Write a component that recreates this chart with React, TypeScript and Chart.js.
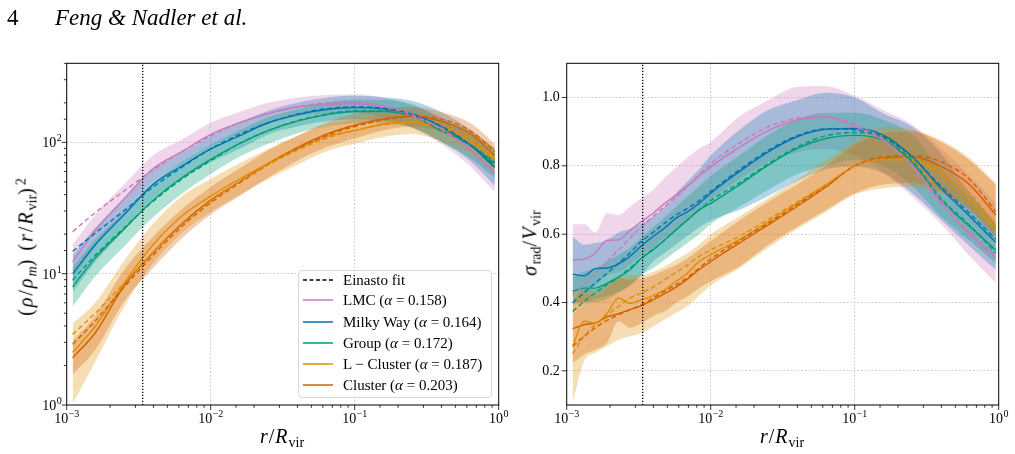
import { useEffect, useRef } from 'react';
import { Chart, registerables } from 'chart.js';

Chart.register(...registerables);

const SERIF = '"Liberation Serif", "Times New Roman", serif';

// Halo classes and their colours
const COLOR_LMC = '#cc78bc';
const COLOR_MW = '#0173b2';
const COLOR_GROUP = '#029e73';
const COLOR_LCL = '#de8f05';
const COLOR_CL = '#d55e00';

const CLASS_NAMES = ['LMC', 'Milky Way', 'Group', 'L \u2212 Cluster', 'Cluster'];
const EINASTO_ALPHA = ['0.158', '0.164', '0.172', '0.187', '0.203'];

// Convergence radius marked in both panels
const R_CONV = 0.00337;

// ---- Left panel: (rho/rho_m)(r/R_vir)^2 ----
const R_DENS = [0.0011, 0.00158, 0.00251, 0.00398, 0.00631, 0.01, 0.0158, 0.0251, 0.0398, 0.0631, 0.1, 0.158, 0.251, 0.398, 0.631, 0.94];

const DENS_LMC = [12.3, 21.4, 37.2, 63.1, 85.1, 115, 141, 166, 186, 195, 197, 186, 158, 126, 89.1, 57.5];
const DENS_LMC_FIT = [20.9, 29.2, 42.7, 61.7, 85.1, 112, 141, 166, 186, 200, 202, 191, 162, 126, 87.1, 58.9];
const DENS_LMC_LO = [9.12, 16.2, 28.8, 50.1, 69.2, 93.3, 117, 138, 158, 166, 168, 155, 129, 97.7, 66.1, 41.7];
const DENS_LMC_HI = [16.6, 28.2, 47.9, 79.4, 105, 141, 170, 200, 219, 229, 232, 219, 191, 155, 112, 74.1];

const DENS_MW = [10.0, 16.6, 28.2, 47.9, 66.1, 89.1, 112, 141, 162, 178, 184, 180, 164, 132, 95.5, 64.6];
const DENS_MW_FIT = [14.8, 20.4, 30.2, 45.7, 64.6, 89.1, 115, 141, 164, 180, 186, 182, 164, 133, 96.6, 66.1];
const DENS_MW_LO = [7.24, 12.3, 21.4, 37.2, 52.5, 70.8, 89.1, 115, 132, 145, 150, 146, 130, 102, 72.4, 46.8];
const DENS_MW_HI = [13.8, 22.4, 37.2, 61.7, 83.2, 112, 141, 174, 200, 219, 226, 221, 207, 170, 126, 89.1];

const DENS_GROUP = [7.94, 13.2, 21.9, 36.3, 53.7, 74.1, 97.7, 123, 145, 162, 172, 172, 158, 123, 95.5, 69.2];
const DENS_GROUP_FIT = [8.91, 13.8, 22.4, 35.5, 52.5, 72.4, 97.7, 123, 146, 164, 174, 174, 160, 124, 96.6, 70.8];
const DENS_GROUP_LO = [5.62, 9.55, 16.2, 26.9, 40.7, 57.5, 77.6, 97.7, 117, 132, 140, 140, 129, 100, 75.9, 53.7];
const DENS_GROUP_HI = [11.2, 18.2, 29.5, 49.0, 70.8, 95.5, 123, 155, 178, 200, 211, 211, 195, 151, 120, 89.1];

const DENS_LCL = [2.51, 3.98, 8.51, 16.6, 27.5, 38.9, 52.5, 69.2, 89.1, 110, 123, 138, 143, 126, 102, 74.1];
const DENS_LCL_FIT = [3.45, 5.01, 8.51, 14.5, 23.4, 35.5, 50.1, 67.6, 87.1, 107, 123, 136, 141, 129, 105, 75.9];
const DENS_LCL_LO = [1.02, 2.14, 5.62, 12.0, 20.4, 29.5, 39.8, 52.5, 67.6, 85.1, 97.7, 110, 116, 102, 81.3, 58.9];
const DENS_LCL_HI = [4.17, 6.03, 12.6, 24.0, 38.9, 52.5, 69.2, 89.1, 112, 135, 148, 162, 164, 148, 123, 91.2];

const DENS_CL = [2.29, 3.55, 8.13, 14.5, 24.0, 36.3, 50.1, 69.2, 91.2, 115, 135, 151, 158, 145, 117, 79.4];
const DENS_CL_FIT = [2.9, 4.37, 7.94, 13.8, 22.9, 34.7, 49.0, 67.6, 89.1, 112, 132, 148, 158, 151, 123, 85.1];
const DENS_CL_LO = [1.7, 2.63, 6.17, 11.0, 18.6, 28.2, 38.9, 53.7, 72.4, 91.2, 107, 123, 132, 120, 95.5, 63.1];
const DENS_CL_HI = [3.09, 4.79, 10.7, 19.1, 30.9, 45.7, 63.1, 87.1, 112, 141, 166, 182, 186, 170, 141, 97.7];

// ---- Right panel: sigma_rad / V_vir ----
const R_DISP = [0.0011, 0.00132, 0.00158, 0.00191, 0.00229, 0.00275, 0.00331, 0.00398, 0.00479, 0.00575, 0.00692, 0.00832, 0.01, 0.0158, 0.0251, 0.0398, 0.0631, 0.1, 0.158, 0.251, 0.398, 0.631, 0.955];
const DISP_TICKS = [0.2, 0.4, 0.6, 0.8, 1.0];

const DISP_LMC = [0.525, 0.527, 0.545, 0.582, 0.583, 0.611, 0.637, 0.661, 0.69, 0.715, 0.742, 0.77, 0.797, 0.854, 0.903, 0.934, 0.942, 0.915, 0.875, 0.798, 0.69, 0.598, 0.53];
const DISP_LMC_FIT = [0.423, 0.452, 0.486, 0.52, 0.554, 0.588, 0.622, 0.652, 0.681, 0.708, 0.74, 0.775, 0.806, 0.866, 0.914, 0.939, 0.944, 0.921, 0.876, 0.8, 0.7, 0.605, 0.535];
const DISP_LMC_LO = [0.43, 0.43, 0.45, 0.48, 0.49, 0.51, 0.54, 0.56, 0.59, 0.61, 0.64, 0.67, 0.7, 0.76, 0.81, 0.84, 0.85, 0.83, 0.78, 0.71, 0.63, 0.535, 0.457];
const DISP_LMC_HI = [0.629, 0.629, 0.605, 0.661, 0.656, 0.681, 0.705, 0.73, 0.765, 0.795, 0.825, 0.85, 0.87, 0.944, 0.992, 1.031, 1.033, 1.005, 0.963, 0.92, 0.85, 0.77, 0.69];

const DISP_MW = [0.483, 0.478, 0.499, 0.501, 0.513, 0.535, 0.566, 0.593, 0.618, 0.647, 0.666, 0.69, 0.72, 0.783, 0.841, 0.885, 0.907, 0.909, 0.89, 0.827, 0.734, 0.652, 0.576];
const DISP_MW_FIT = [0.399, 0.428, 0.457, 0.486, 0.515, 0.545, 0.579, 0.605, 0.632, 0.656, 0.676, 0.698, 0.725, 0.788, 0.845, 0.888, 0.908, 0.905, 0.885, 0.825, 0.74, 0.66, 0.585];
const DISP_MW_LO = [0.4, 0.4, 0.41, 0.42, 0.43, 0.45, 0.48, 0.52, 0.545, 0.57, 0.595, 0.62, 0.64, 0.671, 0.712, 0.755, 0.79, 0.797, 0.778, 0.72, 0.642, 0.564, 0.496];
const DISP_MW_HI = [0.593, 0.569, 0.574, 0.583, 0.605, 0.615, 0.632, 0.652, 0.68, 0.72, 0.755, 0.79, 0.83, 0.905, 0.963, 0.992, 1.014, 1.0, 0.953, 0.914, 0.836, 0.72, 0.632];

const DISP_GROUP = [0.433, 0.442, 0.442, 0.457, 0.474, 0.496, 0.53, 0.554, 0.583, 0.613, 0.642, 0.671, 0.69, 0.744, 0.802, 0.851, 0.88, 0.889, 0.875, 0.81, 0.7, 0.622, 0.554];
const DISP_GROUP_FIT = [0.374, 0.403, 0.428, 0.452, 0.474, 0.501, 0.53, 0.556, 0.583, 0.613, 0.642, 0.671, 0.698, 0.75, 0.806, 0.855, 0.888, 0.897, 0.882, 0.815, 0.705, 0.625, 0.545];
const DISP_GROUP_LO = [0.394, 0.4, 0.4, 0.41, 0.43, 0.45, 0.48, 0.5, 0.525, 0.55, 0.575, 0.6, 0.63, 0.68, 0.73, 0.775, 0.8, 0.817, 0.8, 0.74, 0.652, 0.58, 0.515];
const DISP_GROUP_HI = [0.476, 0.49, 0.5, 0.52, 0.54, 0.56, 0.59, 0.62, 0.65, 0.68, 0.71, 0.74, 0.77, 0.83, 0.89, 0.935, 0.955, 0.955, 0.935, 0.89, 0.79, 0.71, 0.63];

const DISP_LCL = [0.272, 0.345, 0.34, 0.369, 0.413, 0.397, 0.408, 0.42, 0.437, 0.462, 0.486, 0.52, 0.54, 0.584, 0.636, 0.69, 0.744, 0.8, 0.818, 0.815, 0.778, 0.7, 0.617];
const DISP_LCL_FIT = [0.25, 0.301, 0.335, 0.364, 0.389, 0.413, 0.428, 0.445, 0.467, 0.488, 0.51, 0.535, 0.554, 0.594, 0.643, 0.694, 0.745, 0.798, 0.82, 0.817, 0.79, 0.72, 0.627];
const DISP_LCL_LO = [0.107, 0.228, 0.253, 0.272, 0.291, 0.301, 0.311, 0.33, 0.35, 0.37, 0.39, 0.42, 0.45, 0.5, 0.56, 0.615, 0.665, 0.715, 0.734, 0.739, 0.72, 0.671, 0.598];
const DISP_LCL_HI = [0.437, 0.428, 0.418, 0.442, 0.472, 0.481, 0.48, 0.49, 0.505, 0.525, 0.545, 0.57, 0.6, 0.652, 0.705, 0.759, 0.817, 0.87, 0.914, 0.905, 0.875, 0.822, 0.749];

const DISP_CL = [0.323, 0.335, 0.34, 0.358, 0.367, 0.379, 0.391, 0.408, 0.426, 0.445, 0.469, 0.496, 0.52, 0.574, 0.627, 0.681, 0.738, 0.8, 0.822, 0.827, 0.798, 0.744, 0.656];
const DISP_CL_FIT = [0.272, 0.301, 0.326, 0.348, 0.364, 0.379, 0.394, 0.413, 0.433, 0.452, 0.474, 0.501, 0.528, 0.58, 0.632, 0.686, 0.74, 0.8, 0.826, 0.83, 0.812, 0.759, 0.666];
const DISP_CL_LO = [0.223, 0.248, 0.262, 0.282, 0.345, 0.326, 0.34, 0.36, 0.374, 0.399, 0.418, 0.442, 0.462, 0.506, 0.569, 0.622, 0.671, 0.72, 0.745, 0.75, 0.725, 0.671, 0.59];
const DISP_CL_HI = [0.408, 0.437, 0.437, 0.457, 0.472, 0.467, 0.47, 0.48, 0.495, 0.51, 0.53, 0.555, 0.58, 0.64, 0.695, 0.745, 0.8, 0.86, 0.895, 0.9, 0.87, 0.815, 0.745];

type Track = { color: string; line: number[]; fit: number[]; lo: number[]; hi: number[] };

const DENS_TRACKS: Track[] = [
  { color: COLOR_LMC, line: DENS_LMC, fit: DENS_LMC_FIT, lo: DENS_LMC_LO, hi: DENS_LMC_HI },
  { color: COLOR_MW, line: DENS_MW, fit: DENS_MW_FIT, lo: DENS_MW_LO, hi: DENS_MW_HI },
  { color: COLOR_GROUP, line: DENS_GROUP, fit: DENS_GROUP_FIT, lo: DENS_GROUP_LO, hi: DENS_GROUP_HI },
  { color: COLOR_LCL, line: DENS_LCL, fit: DENS_LCL_FIT, lo: DENS_LCL_LO, hi: DENS_LCL_HI },
  { color: COLOR_CL, line: DENS_CL, fit: DENS_CL_FIT, lo: DENS_CL_LO, hi: DENS_CL_HI },
];

const DISP_TRACKS: Track[] = [
  { color: COLOR_LMC, line: DISP_LMC, fit: DISP_LMC_FIT, lo: DISP_LMC_LO, hi: DISP_LMC_HI },
  { color: COLOR_MW, line: DISP_MW, fit: DISP_MW_FIT, lo: DISP_MW_LO, hi: DISP_MW_HI },
  { color: COLOR_GROUP, line: DISP_GROUP, fit: DISP_GROUP_FIT, lo: DISP_GROUP_LO, hi: DISP_GROUP_HI },
  { color: COLOR_LCL, line: DISP_LCL, fit: DISP_LCL_FIT, lo: DISP_LCL_LO, hi: DISP_LCL_HI },
  { color: COLOR_CL, line: DISP_CL, fit: DISP_CL_FIT, lo: DISP_CL_LO, hi: DISP_CL_HI },
];

const LEGEND_COLORS = [COLOR_LMC, COLOR_MW, COLOR_GROUP, COLOR_LCL, COLOR_CL];

const GRID = '#b8b8b8';

function rgba(hex: string, a: number) {
  const n = parseInt(hex.slice(1), 16);
  return `rgba(${(n >> 16) & 255},${(n >> 8) & 255},${n & 255},${a})`;
}

function pts(xs: number[], ys: number[]) {
  return xs.map((x, i) => ({ x, y: ys[i] }));
}

const isDecade = (v: number) => Math.abs(Math.log10(v) - Math.round(Math.log10(v))) < 1e-6;

function buildDatasets(xs: number[], tracks: Track[], yMin: number, yMax: number) {
  const ds: any[] = [];
  tracks.forEach((t, k) => {
    ds.push({ data: pts(xs, t.lo), borderWidth: 0, backgroundColor: 'transparent', fill: false, order: 30 - k });
    ds.push({ data: pts(xs, t.hi), borderWidth: 0, backgroundColor: rgba(t.color, 0.3), fill: '-1', order: 30 - k });
  });
  ds.push({
    data: [{ x: R_CONV, y: yMin }, { x: R_CONV, y: yMax }],
    borderColor: '#000', borderWidth: 1.3, borderDash: [1.3, 1.7],
    cubicInterpolationMode: 'default', tension: 0, fill: false, order: 1,
  });
  tracks.forEach((t) => ds.push({ data: pts(xs, t.line), borderColor: t.color, borderWidth: 1.4, fill: false, order: 3 }));
  tracks.forEach((t) => ds.push({ data: pts(xs, t.fit), borderColor: t.color, borderWidth: 1.4, borderDash: [5, 3], fill: false, order: 2 }));
  return ds;
}

function drawPow(ctx: CanvasRenderingContext2D, exp: number, x: number, y: number, align: 'center' | 'right') {
  const base = '10';
  const sup = exp < 0 ? '\u2212' + -exp : String(exp);
  ctx.font = `14px ${SERIF}`;
  const wb = ctx.measureText(base).width;
  ctx.font = `10px ${SERIF}`;
  const ws = ctx.measureText(sup).width;
  const total = wb + ws + 0.5;
  const x0 = align === 'center' ? x - total / 2 : x - total;
  ctx.textAlign = 'left';
  ctx.textBaseline = 'alphabetic';
  ctx.font = `14px ${SERIF}`;
  ctx.fillText(base, x0, y);
  ctx.font = `10px ${SERIF}`;
  ctx.fillText(sup, x0 + wb + 0.5, y - 6);
}

// Frame, outward tick marks and power-of-ten labels
const axesDecor = {
  id: 'axesDecor',
  afterDraw(chart: any) {
    const { ctx, chartArea: a } = chart;
    const xs = chart.scales.x;
    const ys = chart.scales.y;
    const yLog = ys.type === 'logarithmic';
    ctx.save();
    ctx.strokeStyle = '#000';
    ctx.lineWidth = 0.8;
    ctx.beginPath();
    for (const t of xs.ticks) {
      const p = xs.getPixelForValue(t.value);
      if (p < a.left - 0.5 || p > a.right + 0.5) continue;
      const len = isDecade(t.value) ? 5 : 2.8;
      ctx.moveTo(p, a.bottom);
      ctx.lineTo(p, a.bottom + len);
    }
    for (const t of ys.ticks) {
      const p = ys.getPixelForValue(t.value);
      if (p < a.top - 0.5 || p > a.bottom + 0.5) continue;
      const len = yLog && !isDecade(t.value) ? 2.8 : 5;
      ctx.moveTo(a.left, p);
      ctx.lineTo(a.left - len, p);
    }
    ctx.stroke();
    ctx.lineWidth = 1;
    ctx.strokeRect(a.left, a.top, a.right - a.left, a.bottom - a.top);
    ctx.fillStyle = '#000';
    for (const t of xs.ticks) {
      if (isDecade(t.value)) drawPow(ctx, Math.round(Math.log10(t.value)), xs.getPixelForValue(t.value), a.bottom + 18, 'center');
    }
    if (yLog) {
      for (const t of ys.ticks) {
        if (isDecade(t.value)) drawPow(ctx, Math.round(Math.log10(t.value)), a.left - 5, ys.getPixelForValue(t.value) + 5, 'right');
      }
    }
    ctx.restore();
  },
};

function logAxis(min: number, max: number, size: number, horizontal: boolean) {
  return {
    type: 'logarithmic',
    min,
    max,
    ticks: { display: false, autoSkip: false },
    grid: {
      drawTicks: false,
      lineWidth: 0.8,
      color: (c: any) =>
        c.tick && isDecade(c.tick.value) && c.tick.value > min * 1.001 && c.tick.value < max * 0.999 ? GRID : 'transparent',
    },
    border: { display: false, dash: [1.5, 2] },
    afterFit: (s: any) => {
      if (horizontal) s.height = size;
      else s.width = size;
      s.paddingLeft = 0;
      s.paddingRight = 0;
      s.paddingTop = 0;
      s.paddingBottom = 0;
    },
  };
}

const COMMON = {
  responsive: false,
  animation: false,
  devicePixelRatio: 1,
  events: [],
  elements: { point: { radius: 0 }, line: { cubicInterpolationMode: 'monotone' } },
  plugins: { legend: { display: false }, tooltip: { enabled: false } },
};

function densityConfig(): any {
  return {
    type: 'line',
    data: { datasets: buildDatasets(R_DENS, DENS_TRACKS, 1, 400) },
    options: {
      ...COMMON,
      layout: { padding: { left: 0, top: 63.3, right: 540 - 498.7, bottom: 0 } },
      scales: {
        x: logAxis(0.001, 1, 49, true),
        y: logAxis(1, 400, 66.7, false),
      },
    },
    plugins: [axesDecor],
  };
}

function dispersionConfig(): any {
  return {
    type: 'line',
    data: { datasets: buildDatasets(R_DISP, DISP_TRACKS, 0.1, 1.1) },
    options: {
      ...COMMON,
      layout: { padding: { left: 0, top: 63.3, right: 508 - 491.7, bottom: 0 } },
      scales: {
        x: logAxis(0.001, 1, 49, true),
        y: {
          type: 'linear',
          min: 0.1,
          max: 1.1,
          ticks: {
            padding: 7,
            color: '#000',
            font: { family: SERIF, size: 14 },
            callback: (v: number) => Number(v).toFixed(1),
          },
          afterBuildTicks: (s: any) => {
            s.ticks = DISP_TICKS.map((value) => ({ value }));
          },
          grid: { drawTicks: false, lineWidth: 0.8, color: GRID },
          border: { display: false, dash: [1.5, 2] },
          afterFit: (s: any) => {
            s.width = 59.7;
            s.paddingTop = 0;
            s.paddingBottom = 0;
          },
        },
      },
    },
    plugins: [axesDecor],
  };
}

// Sub/superscripts keep their natural spacing
const subS = { fontSize: '0.7em', position: 'relative' as const, top: '0.3em', letterSpacing: 0 };
const supS = { fontSize: '0.7em', position: 'relative' as const, top: '-0.5em', letterSpacing: 0, marginLeft: 1 };

function RadiusLabel() {
  return (
    <span>
      <i>r</i>/<i>R</i>
      <span style={subS}>vir</span>
    </span>
  );
}

function LegendLine({ color, dashed }: { color: string; dashed?: boolean }) {
  return (
    <svg width={30} height={6} style={{ position: 'absolute', left: 4, top: 6 }}>
      <line x1={0} y1={3} x2={30} y2={3} stroke={color} strokeWidth={1.5} strokeDasharray={dashed ? '4 2.5' : undefined} />
    </svg>
  );
}

function Legend() {
  const rowTop = (i: number) => [9, 29, 50.5, 72, 93, 114][i] - 9;
  return (
    <div
      style={{
        position: 'absolute', left: 298, top: 270, width: 194, height: 128, boxSizing: 'border-box',
        border: '1px solid #d6d6d6', borderRadius: 4, background: 'rgba(255,255,255,0.8)',
        fontSize: 15, lineHeight: '18px', whiteSpace: 'nowrap',
      }}
    >
      <div style={{ position: 'absolute', left: 0, top: rowTop(0), height: 18, width: '100%' }}>
        <LegendLine color="#000" dashed />
        <span style={{ position: 'absolute', left: 44 }}>Einasto fit</span>
      </div>
      {CLASS_NAMES.map((name, i) => (
        <div key={name} style={{ position: 'absolute', left: 0, top: rowTop(i + 1), height: 18, width: '100%' }}>
          <LegendLine color={LEGEND_COLORS[i]} />
          <span style={{ position: 'absolute', left: 44 }}>
            {name} (<i>α</i> = {EINASTO_ALPHA[i]})
          </span>
        </div>
      ))}
    </div>
  );
}

const titleBase = { position: 'absolute' as const, fontSize: 20, lineHeight: '20px', whiteSpace: 'nowrap' as const };

export default function App() {
  const leftRef = useRef<HTMLCanvasElement>(null);
  const rightRef = useRef<HTMLCanvasElement>(null);

  useEffect(() => {
    const left = new Chart(leftRef.current as HTMLCanvasElement, densityConfig());
    const right = new Chart(rightRef.current as HTMLCanvasElement, dispersionConfig());
    return () => {
      left.destroy();
      right.destroy();
    };
  }, []);

  return (
    <div
      style={{
        position: 'absolute', left: 0, top: 0, width: 1015, height: 454, overflow: 'hidden',
        background: '#fff', color: '#000', fontFamily: SERIF,
      }}
    >
      <canvas ref={leftRef} width={540} height={454} style={{ position: 'absolute', left: 0, top: 0, width: 540, height: 454 }} />
      <canvas ref={rightRef} width={508} height={454} style={{ position: 'absolute', left: 507, top: 0, width: 508, height: 454 }} />

      <div style={{ position: 'absolute', left: 7, top: 6, fontSize: 23, lineHeight: '23px' }}>4</div>
      <div style={{ position: 'absolute', left: 55, top: 6, fontSize: 23, lineHeight: '23px', fontStyle: 'italic' }}>
        Feng &amp; Nadler et al.
      </div>

      <div style={{ ...titleBase, left: 282, top: 426, letterSpacing: 1, transform: 'translateX(-50%)' }}>
        <RadiusLabel />
      </div>
      <div style={{ ...titleBase, left: 782, top: 426, letterSpacing: 1, transform: 'translateX(-50%)' }}>
        <RadiusLabel />
      </div>

      <div style={{ ...titleBase, left: 27, top: 247, letterSpacing: 2, transform: 'translate(-50%, -50%) rotate(-90deg)' }}>
        (<i>ρ</i>/<i>ρ</i>
        <span style={{ ...subS, fontStyle: 'italic' }}>m</span>)<span style={{ display: 'inline-block', width: 7 }} />(<i>r</i>/<i>R</i>
        <span style={subS}>vir</span>)<span style={supS}>2</span>
      </div>
      <div style={{ ...titleBase, left: 531, top: 243, letterSpacing: 1.5, transform: 'translate(-50%, -50%) rotate(-90deg)' }}>
        <i>σ</i>
        <span style={subS}>rad</span>/<i>V</i>
        <span style={subS}>vir</span>
      </div>

      <Legend />
    </div>
  );
}
